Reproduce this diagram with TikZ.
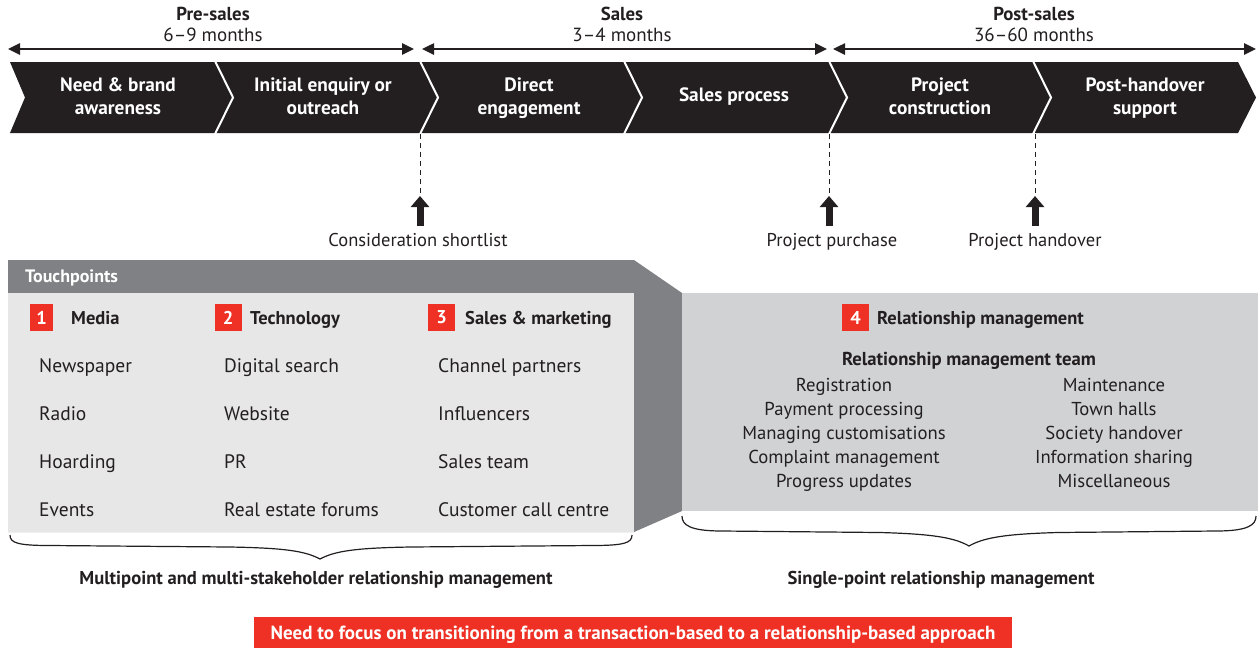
\documentclass[tikz,border=0pt]{standalone}
\usepackage{fontspec}
\setmainfont{PT Sans}
\usetikzlibrary{arrows.meta}
\definecolor{ink}{HTML}{231F20}
\definecolor{tpred}{HTML}{EE3124}
\definecolor{tpdark}{HTML}{808184}
\definecolor{tplight}{HTML}{E6E7E6}
\definecolor{rmgray}{HTML}{D1D2D4}
\begin{document}
\begin{tikzpicture}[x=1pt,y=-1pt,
  every node/.style={text=ink, inner sep=0pt},
  stagetxt/.style={text=white, font=\fontsize{19.3}{23}\selectfont\bfseries, align=center, anchor=base},
  phase/.style={font=\fontsize{18.8}{20}\selectfont\bfseries, anchor=base},
  dur/.style={font=\fontsize{19}{20}\selectfont, anchor=base},
  milestone/.style={font=\fontsize{18.5}{20}\selectfont, anchor=base},
  item/.style={font=\fontsize{19.5}{22}\selectfont, anchor=base west},
  ritem/.style={font=\fontsize{18.7}{24}\selectfont, align=center, anchor=base},
  numbox/.style={fill=tpred, text=white, font=\fontsize{18.5}{20}\selectfont\bfseries, minimum width=27pt, minimum height=27pt},
  head/.style={font=\fontsize{18.5}{20}\selectfont\bfseries, anchor=base west},
  span/.style={draw=ink, line width=2.5pt, {Triangle[length=12pt,width=11pt]}-{Triangle[length=12pt,width=11pt]}},
  guide/.style={draw=ink, line width=0.8pt, dash pattern=on 5pt off 4pt},
  uparrow/.style={draw=ink, line width=7pt, -{Triangle[length=11pt,width=18pt]}},
  bracepath/.style={draw=ink, line width=1.2pt},
  caption/.style={font=\fontsize{18.6}{20}\selectfont\bfseries, anchor=base}
]
\useasboundingbox (0,0) rectangle (1260,649);

% ---------- phase spans ----------
\coordinate (preL) at (8,49);   \coordinate (preR) at (414,49);
\coordinate (salL) at (422,49); \coordinate (salR) at (827,49);
\coordinate (posL) at (833,49); \coordinate (posR) at (1256,49);
\draw[span] (preL) -- (preR);
\draw[span] (salL) -- (salR);
\draw[span] (posL) -- (posR);
\node[phase] (pre) at (213,20.5) {Pre-sales};
\node[dur] (pred) at (213,41.5) {6–9 months};
\node[phase] (sal) at (622,20.5) {Sales};
\node[dur] (sald) at (622,41.5) {3–4 months};
\node[phase] (pos) at (1034,20.5) {Post-sales};
\node[dur] (posd) at (1034,41.5) {36–60 months};

% ---------- chevron band ----------
\fill[ink] (10,62) -- (1238,62) -- (1256,97.5) -- (1238,133) -- (10,133) -- (25,97.5) -- cycle;
\foreach \x in {215,420,624,829,1033}
  \draw[white, line width=2pt] (\x,61) -- (\x+18,97.5) -- (\x,134);
\node[stagetxt] (s1) at (118,114.5) {Need \& brand\\awareness};
\node[stagetxt] (s2) at (323,114.5) {Initial enquiry or\\outreach};
\node[stagetxt] (s3) at (529,114.5) {Direct\\engagement};
\node[stagetxt] (s4) at (734,101) {Sales process};
\node[stagetxt] (s5) at (940,114.5) {Project\\construction};
\node[stagetxt] (s6) at (1145,114.5) {Post-handover\\support};

% ---------- milestones ----------
\foreach \n/\x in {a/420, b/829, c/1035}{
  \coordinate (top\n) at (\x,134);
  \coordinate (tip\n) at (\x,196);
  \coordinate (base\n) at (\x,226);
}
\draw[guide] (topa) -- (tipa);
\draw[guide] (topb) -- (tipb);
\draw[guide] (topc) -- (tipc);
\draw[uparrow] (basea) -- (tipa);
\draw[uparrow] (baseb) -- (tipb);
\draw[uparrow] (basec) -- (tipc);
\node[milestone] (m1) at (418,246.5) {Consideration shortlist};
\node[milestone] (m2) at (832,246.5) {Project purchase};
\node[milestone] (m3) at (1035,246.5) {Project handover};

% ---------- panels ----------
\fill[tpdark] (8,260) -- (634,260) -- (682,293) -- (682,511) -- (634,532) -- (8,532) -- cycle;
\fill[tplight] (8,293) rectangle (634,532);
\fill[rmgray] (682,293) rectangle (1258,511);
\node[anchor=base west, text=white, font=\fontsize{18}{18}\selectfont\bfseries] (tp) at (25,282.5) {Touchpoints};

% headers
\node[numbox, minimum width=23pt] (n1) at (41.5,317.5) {1};
\node[head] (h1) at (71,324.5) {Media};
\node[numbox] (n2) at (228,317.5) {2};
\node[head] (h2) at (250,324.5) {Technology};
\node[numbox] (n3) at (441.5,317.5) {3};
\node[head] (h3) at (465,324.5) {Sales \& marketing};
\node[numbox] (n4) at (855.5,317.5) {4};
\node[head] (h4) at (877,324.5) {Relationship management};

% column items
\node[item] (c11) at (39,372) {Newspaper};
\node[item] (c12) at (39,420) {Radio};
\node[item] (c13) at (39,468) {Hoarding};
\node[item] (c14) at (39,516) {Events};
\node[item] (c21) at (224,372) {Digital search};
\node[item] (c22) at (224,420) {Website};
\node[item] (c23) at (224,468) {PR};
\node[item] (c24) at (224,516) {Real estate forums};
\node[item] (c31) at (438,372) {Channel partners};
\node[item] (c32) at (438,420) {Influencers};
\node[item] (c33) at (438,468) {Sales team};
\node[item] (c34) at (438,516) {Customer call centre};

% relationship team
\node[anchor=base, font=\fontsize{18.7}{20}\selectfont\bfseries] (rmt) at (969,365.5) {Relationship management team};
\node[ritem] (rl) at (844,487.5) {Registration\\Payment processing\\Managing customisations\\Complaint management\\Progress updates};
\node[ritem] (rr) at (1114,487.5) {Maintenance\\Town halls\\Society handover\\Information sharing\\Miscellaneous};

% ---------- braces ----------
\coordinate (lb1) at (10,535); \coordinate (lbt) at (320,559); \coordinate (lb2) at (632,535);
\draw[bracepath] (lb1) .. controls (10,543) and (18,545.5) .. (50,545.5)
  -- (230,547) .. controls (285,548) and (305,551) .. (lbt)
  .. controls (335,551) and (355,548) .. (410,547)
  -- (592,545.5) .. controls (624,545.5) and (632,543) .. (lb2);
\coordinate (rb1) at (682,516); \coordinate (rbt) at (969,546); \coordinate (rb2) at (1256,516);
\draw[bracepath] (rb1) .. controls (682,525) and (690,531) .. (722,531)
  -- (880,532.5) .. controls (935,534) and (955,538) .. (rbt)
  .. controls (983,538) and (1003,534) .. (1058,532.5)
  -- (1216,531) .. controls (1248,531) and (1256,525) .. (rb2);

\node[caption] (cap1) at (316,584.5) {Multipoint and multi-stakeholder relationship management};
\node[caption] (cap2) at (941,584.5) {Single-point relationship management};

% ---------- banner ----------
\fill[tpred] (254,617) rectangle (1012,648);
\node[anchor=base, text=white, font=\fontsize{19}{20}\selectfont\bfseries] (ban) at (633,639) {Need to focus on transitioning from a transaction-based to a relationship-based approach};
\end{tikzpicture}
\end{document}
